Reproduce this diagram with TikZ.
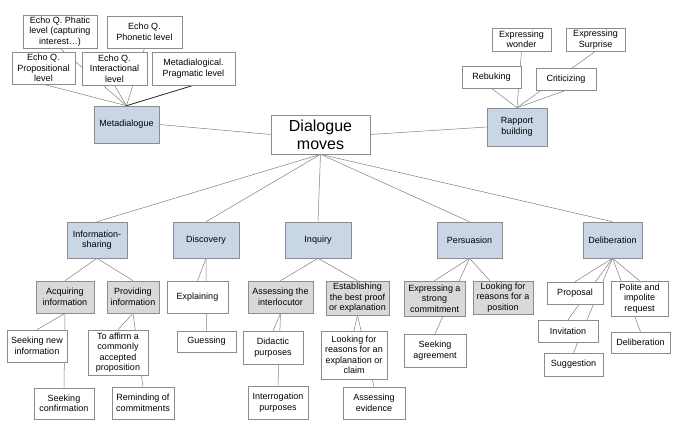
\documentclass[tikz,border=0pt]{standalone}
\usepackage{fontspec}
\setmainfont{Liberation Sans}
\pgfdeclarelayer{background}
\pgfsetlayers{background,main}
\definecolor{bluefill}{HTML}{C9D6E6}
\definecolor{grayfill}{HTML}{D9D9D9}
\definecolor{bordergray}{HTML}{8C8C8C}
\definecolor{linegray}{HTML}{808080}
\begin{document}
\begin{tikzpicture}[x=1pt,y=-1pt,
  box/.style={draw=bordergray, line width=0.6pt, fill=white, align=center, inner sep=0pt,
    font=\fontsize{9}{10.5}\selectfont},
  bluebox/.style={box, fill=bluefill},
  graybox/.style={box, fill=grayfill},
  conn/.style={draw=linegray, line width=0.5pt},
  darkconn/.style={draw=black!85, line width=0.8pt}]
\useasboundingbox (0,0) rectangle (685,435);

% Center
\node[box, minimum width=99pt, minimum height=39pt, font=\fontsize{16}{18}\selectfont] (dm) at (320.5,134.5) {Dialogue\\moves};

% Metadialogue branch
\node[bluebox, minimum width=65pt, minimum height=37pt] (metad) at (126.5,124.5) {Metadialogue};
\node[box, minimum width=74pt, minimum height=33pt] (phatic) at (60,31.5) {Echo Q. Phatic\\level (capturing\\interest…)};
\node[box, minimum width=75pt, minimum height=32pt] (phonetic) at (144.5,32) {Echo Q.\\Phonetic level};
\node[box, minimum width=63pt, minimum height=32pt] (propos) at (43.5,68) {Echo Q.\\Propositional\\level};
\node[box, minimum width=65pt, minimum height=33pt] (inter) at (114.5,68.5) {Echo Q.\\Interactional\\level};
\node[box, minimum width=83pt, minimum height=33pt] (metaprag) at (193.5,68.5) {Metadialogical.\\Pragmatic level};

% Rapport branch
\node[bluebox, minimum width=60pt, minimum height=38pt] (rapport) at (517,127) {Rapport\\building};
\node[box, minimum width=59pt, minimum height=23pt] (wonder) at (521.5,39.5) {Expressing\\wonder};
\node[box, minimum width=59pt, minimum height=23pt] (surprise) at (595.5,39.5) {Expressing\\Surprise};
\node[box, minimum width=59pt, minimum height=22pt] (rebuk) at (491.5,77) {Rebuking};
\node[box, minimum width=60pt, minimum height=22pt] (critic) at (566,79) {Criticizing};

% Level 1
\node[bluebox, minimum width=60pt, minimum height=36pt] (info) at (97,240) {Information-\\sharing};
\node[bluebox, minimum width=66pt, minimum height=36pt] (disc) at (206,240) {Discovery};
\node[bluebox, minimum width=66pt, minimum height=36pt] (inq) at (318,240) {Inquiry};
\node[bluebox, minimum width=65pt, minimum height=36pt] (pers) at (469.5,240) {Persuasion};
\node[bluebox, minimum width=59pt, minimum height=36pt] (delib) at (612.5,240) {Deliberation};

% Level 2
\node[graybox, minimum width=58pt, minimum height=32pt] (acq) at (65,297) {Acquiring\\information};
\node[graybox, minimum width=52pt, minimum height=32pt] (prov) at (133,297) {Providing\\information};
\node[box, minimum width=61pt, minimum height=32pt] (expl) at (197.5,297) {Explaining};
\node[graybox, minimum width=65pt, minimum height=32pt] (assint) at (280.5,297) {Assessing the\\interlocutor};
\node[graybox, minimum width=63pt, minimum height=34pt] (estab) at (357.5,298) {Establishing\\the best proof\\or explanation};
\node[graybox, minimum width=61pt, minimum height=35pt] (exstr) at (434.5,298.5) {Expressing a\\strong\\commitment};
\node[graybox, minimum width=60pt, minimum height=33pt] (lfrpos) at (503,297.5) {Looking for\\reasons for a\\position};
\node[box, minimum width=56pt, minimum height=22pt] (proposal) at (575,293) {Proposal};
\node[box, minimum width=57pt, minimum height=35pt] (polite) at (639.5,298.5) {Polite and\\impolite\\request};

% Level 3
\node[box, minimum width=60pt, minimum height=32pt] (seeknew) at (37,346) {Seeking new\\information};
\node[box, minimum width=60pt, minimum height=45pt] (affirm) at (118,352.5) {To affirm a\\commonly\\accepted\\proposition};
\node[box, minimum width=59pt, minimum height=21pt] (guess) at (206.5,341.5) {Guessing};
\node[box, minimum width=60pt, minimum height=33pt] (didac) at (273,347.5) {Didactic\\purposes};
\node[box, minimum width=66pt, minimum height=48pt] (lfrexp) at (354,355) {Looking for\\reasons for an\\explanation or\\claim};
\node[box, minimum width=62pt, minimum height=33pt] (seekagr) at (435,350.5) {Seeking\\agreement};
\node[box, minimum width=60pt, minimum height=22pt] (invit) at (568,331) {Invitation};
\node[box, minimum width=59pt, minimum height=21pt] (subdelib) at (640.5,342.5) {Deliberation};
\node[box, minimum width=59pt, minimum height=23pt] (sugg) at (573.5,364.5) {Suggestion};

% Level 4
\node[box, minimum width=60pt, minimum height=31pt] (seekconf) at (64,403.5) {Seeking\\confirmation};
\node[box, minimum width=62pt, minimum height=32pt] (remind) at (143,403) {Reminding of\\commitments};
\node[box, minimum width=60pt, minimum height=33pt] (interrog) at (278,402.5) {Interrogation\\purposes};
\node[box, minimum width=62pt, minimum height=32pt] (assev) at (374,403) {Assessing\\evidence};

\begin{pgfonlayer}{background}
  \fill[white] (0,0) rectangle (685,435);
  \draw[conn] (metad.north) -- (propos.south);
  \draw[conn] (metad.north) -- (phatic.south);
  \draw[conn] (metad.north) -- (inter.south);
  \draw[conn] (metad.north) -- (phonetic.south);
  \draw[darkconn] (metad.north) -- (metaprag.south);
  \draw[conn] (metad.east) -- (dm.west);
  \draw[conn] (rapport.north) -- (rebuk.south);
  \draw[conn] (rapport.north) -- (wonder.south);
  \draw[conn] (rapport.north) -- (critic.south);
  \draw[conn] (rapport.north) -- (surprise.south);
  \draw[conn] (rapport.west) -- (dm.east);
  \foreach \n in {info,disc,inq,pers,delib} \draw[conn] (dm.south) -- (\n.north);
  \draw[conn] (info.south) -- (acq.north);
  \draw[conn] (info.south) -- (prov.north);
  \draw[conn] (acq.south) -- (seeknew.north);
  \draw[conn] (acq.south) -- (seekconf.north);
  \draw[conn] (prov.south) -- (affirm.north);
  \draw[conn] (prov.south) -- (remind.north);
  \draw[conn] (disc.south) -- (expl.north);
  \draw[conn] (disc.south) -- (guess.north);
  \draw[conn] (inq.south) -- (assint.north);
  \draw[conn] (inq.south) -- (estab.north);
  \draw[conn] (assint.south) -- (didac.north);
  \draw[conn] (assint.south) -- (interrog.north);
  \draw[conn] (estab.south) -- (lfrexp.north);
  \draw[conn] (estab.south) -- (assev.north);
  \draw[conn] (pers.south) -- (exstr.north);
  \draw[conn] (pers.south) -- (seekagr.north);
  \draw[conn] (pers.south) -- ([xshift=-13pt]lfrpos.north);
  \foreach \n in {proposal,invit,sugg,polite,subdelib} \draw[conn] (delib.south) -- (\n.north);
\end{pgfonlayer}
\end{tikzpicture}
\end{document}
